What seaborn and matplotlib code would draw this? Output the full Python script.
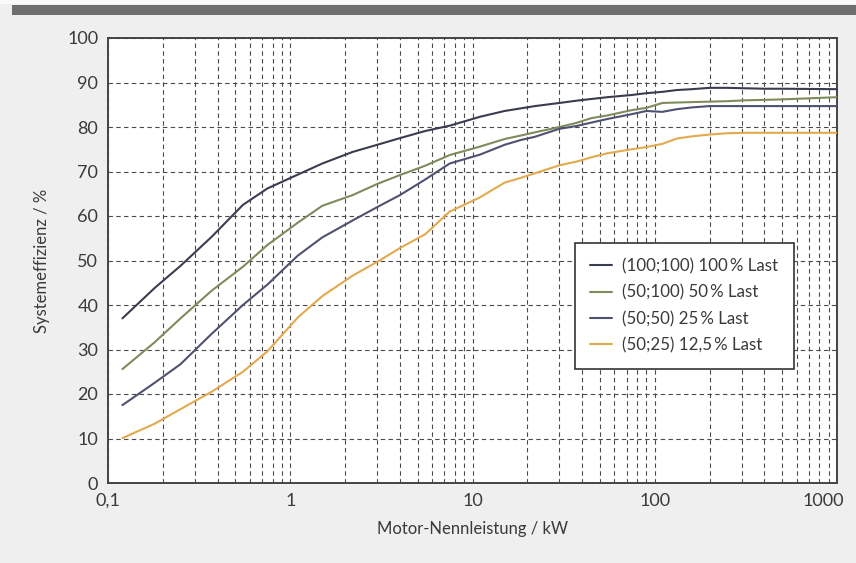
import numpy as np
import pandas as pd
import matplotlib
matplotlib.use("Agg")
import matplotlib.pyplot as plt
import matplotlib.transforms as mtransforms
import seaborn as sns
from matplotlib.patches import Rectangle
from matplotlib.ticker import LogLocator, FixedLocator, FixedFormatter, NullFormatter

# --- data ---
power_kw = [0.12, 0.18, 0.25, 0.37, 0.55, 0.75, 1.1, 1.5, 2.2, 3, 4, 5.5, 7.5, 11, 15,
            18.5, 22, 30, 37, 45, 55, 75, 90, 110, 132, 160, 200, 250, 315, 400, 500, 1000]

eff_100_100 = [37.0, 43.8, 48.8, 55.3, 62.5, 66.2, 69.3, 71.8, 74.4, 76.0, 77.5, 79.1, 80.3,
               82.3, 83.6, 84.2, 84.7, 85.4, 85.9, 86.3, 86.7, 87.2, 87.6, 87.9, 88.3, 88.5,
               88.8, 88.8, 88.7, 88.6, 88.6, 88.5]
eff_50_100 = [25.6, 31.6, 37.0, 43.2, 48.6, 53.5, 58.5, 62.3, 64.7, 67.2, 69.2, 71.3, 73.7,
              75.6, 77.3, 78.1, 78.8, 80.0, 80.9, 82.0, 82.6, 83.8, 84.3, 85.4, 85.5, 85.6,
              85.7, 85.8, 86.0, 86.1, 86.2, 86.7]
eff_50_50 = [17.5, 22.5, 26.7, 33.5, 40.0, 44.6, 51.1, 55.2, 59.0, 62.0, 64.7, 68.2, 71.8,
             73.8, 76.0, 77.1, 77.8, 79.6, 80.2, 81.0, 81.8, 82.9, 83.6, 83.4, 84.0, 84.4,
             84.7, 84.7, 84.7, 84.7, 84.7, 84.7]
eff_50_25 = [10.1, 13.3, 16.6, 20.5, 25.0, 29.6, 37.2, 42.0, 46.6, 49.7, 52.8, 55.9, 61.0,
             64.2, 67.5, 68.6, 69.6, 71.4, 72.2, 73.2, 74.1, 75.0, 75.5, 76.2, 77.4, 77.9,
             78.3, 78.6, 78.7, 78.7, 78.7, 78.7]

series_names = ["(100;100) 100\u2009% Last", "(50;100) 50\u2009% Last",
                "(50;50) 25\u2009% Last", "(50;25) 12,5\u2009% Last"]
series_values = [eff_100_100, eff_50_100, eff_50_50, eff_50_25]
series_colors = ["#3a3d4e", "#7e8b5c", "#4e5270", "#e2a94f"]

x_ticks = [0.1, 1, 10, 100, 1000]
x_ticklabels = ["0,1", "1", "10", "100", "1000"]
y_ticks = [0, 10, 20, 30, 40, 50, 60, 70, 80, 90, 100]

df = pd.concat([pd.DataFrame({"Leistung": power_kw, "Effizienz": v, "Serie": n})
                for n, v in zip(series_names, series_values)], ignore_index=True)

# --- style ---
sns.set_style("white")
plt.rcParams["font.family"] = ["Lato", "DejaVu Sans"]
text_col = "#3a3a3a"

fig = plt.figure(figsize=(8.56, 5.63), dpi=100, facecolor="#efefef")
ax = fig.add_axes([108 / 856, 1 - 483 / 563, 729 / 856, 445 / 563])
ax.set_facecolor("white")

# dark scan band at the top
fig.patches.append(Rectangle((12 / 856, 1 - 15 / 563), 1, 10 / 563,
                             transform=fig.transFigure, facecolor="#6e6e6e",
                             edgecolor="none", zorder=0))
fig.patches.append(Rectangle((0, 1 - 4 / 563), 1, 4 / 563,
                             transform=fig.transFigure, facecolor="#fafafa",
                             edgecolor="none", zorder=0))

sns.lineplot(data=df, x="Leistung", y="Effizienz", hue="Serie",
             palette=dict(zip(series_names, series_colors)), linewidth=1.5,
             ax=ax, legend=True, zorder=3)

ax.set_xscale("log")
ax.set_xlim(0.1, 1000)
ax.set_ylim(0, 100)

ax.xaxis.set_major_locator(FixedLocator(x_ticks))
ax.xaxis.set_major_formatter(FixedFormatter(x_ticklabels))
ax.xaxis.set_minor_locator(LogLocator(base=10, subs=np.arange(2, 10)))
ax.xaxis.set_minor_formatter(NullFormatter())
ax.set_yticks(y_ticks)

grid_kw = dict(color="#4a4a4a", linestyle=(0, (4, 3)), linewidth=0.8)
ax.grid(True, which="both", axis="x", **grid_kw)
ax.grid(True, which="major", axis="y", **grid_kw)
ax.set_axisbelow(True)

ax.tick_params(axis="both", which="both", length=0, labelsize=13,
               labelcolor=text_col, pad=7)
xt = ax.get_xticklabels()
shift = mtransforms.ScaledTranslation(-14 / 100, 0, fig.dpi_scale_trans)
xt[-1].set_transform(xt[-1].get_transform() + shift)

for s in ax.spines.values():
    s.set_color("#444444")
    s.set_linewidth(1.4)

ax.set_xlabel("Motor-Nennleistung / kW", fontsize=12, color=text_col, labelpad=9)
ax.set_ylabel("Systemeffizienz / %", fontsize=12, color=text_col, labelpad=12)

handles, labels = ax.get_legend_handles_labels()
leg = ax.legend(handles, labels, loc="upper left",
                bbox_to_anchor=(467 / 729, 240 / 445),
                frameon=True, fancybox=False, framealpha=1, edgecolor="#333333",
                fontsize=12.2, handlelength=1.3, handletextpad=0.6,
                labelspacing=0.6, borderpad=0.9, borderaxespad=0)
leg.get_frame().set_linewidth(1.2)
for t in leg.get_texts():
    t.set_color(text_col)
for h in leg.get_lines():
    h.set_linewidth(1.5)

fig.savefig("out.png", dpi=100, facecolor=fig.get_facecolor())
